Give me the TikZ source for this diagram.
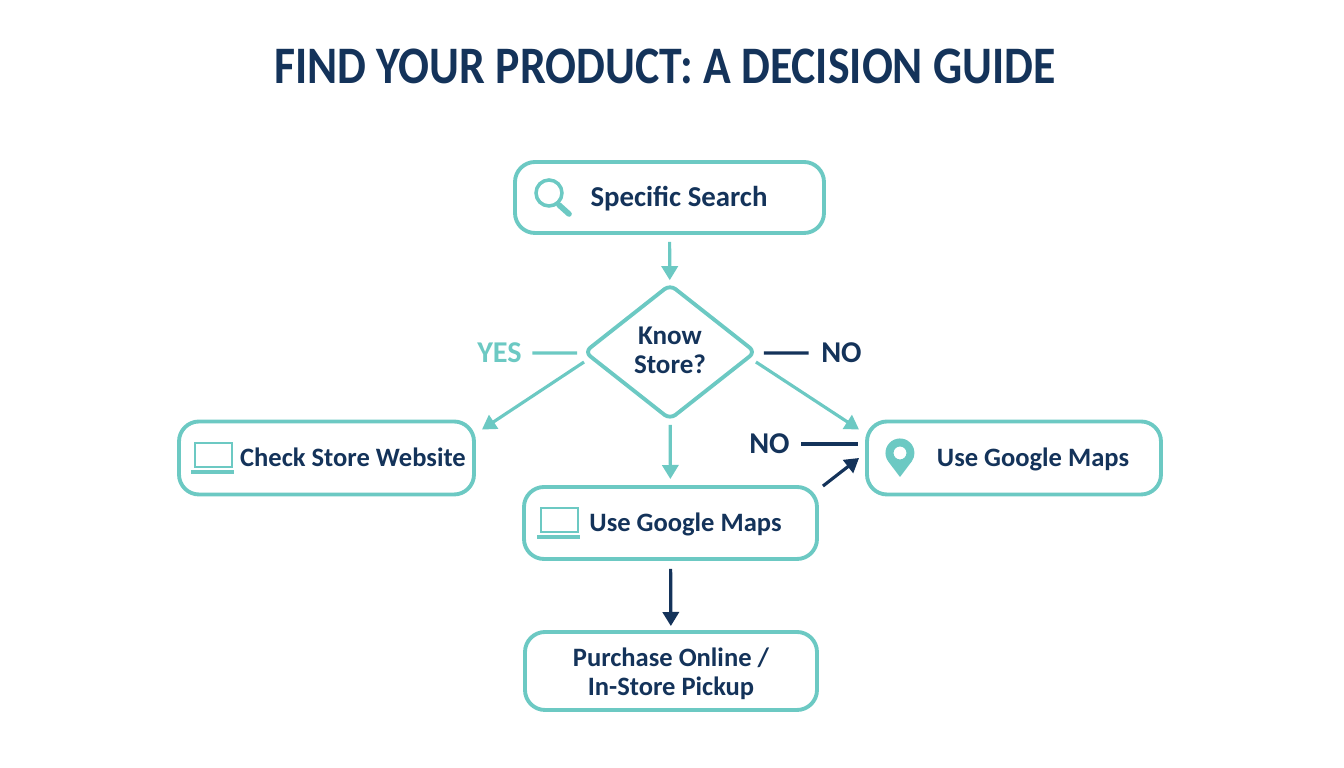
\documentclass[tikz,border=0pt]{standalone}
\usepackage{fontspec}
\setmainfont{Carlito}
\newfontfamily\titlefont[FakeStretch=.868]{Carlito}
\usetikzlibrary{arrows.meta,shapes.geometric}
\definecolor{aqua}{HTML}{6CC9C3}
\definecolor{navy}{HTML}{14335A}
\tikzset{
	flowbox/.style={draw=aqua,line width=1.1pt,rounded corners=.2cm,fill=white,text=navy,align=center,inner sep=0pt,font=\fontsize{7.55pt}{8.25pt}\selectfont\bfseries},
	oneline/.style={text height=6.6pt,text depth=1.5pt},
	flowdia/.style={draw=aqua,line width=1.1pt,rounded corners=.07cm,diamond,aspect=1.27,inner sep=0pt,text=navy,align=center,minimum width=1.72cm,minimum height=1.36cm,font=\fontsize{7.7pt}{8.2pt}\selectfont\bfseries},
	flowtag/.style={inner sep=0pt,font=\fontsize{8.6pt}{10pt}\selectfont\bfseries},
	tealarr/.style={-{Stealth[inset=0pt,length=4pt,width=4.6pt]},line width=.9pt,aqua},
	navyarr/.style={-{Stealth[inset=0pt,length=4pt,width=4.6pt]},line width=.9pt,navy},
}
\newcommand{\laptopicon}[1]{
	\begin{scope}[shift={(#1)}]
		\draw[aqua,line width=.7pt] (.04,.04) rectangle (.41,.28);
		\fill[aqua] (0,-.03) rectangle (.43,.01);
	\end{scope}
}
\begin{document}
\begin{tikzpicture}
	\useasboundingbox (0,0) rectangle (13.44,7.68);

	\node[navy,inner sep=0pt,font=\fontsize{15pt}{18pt}\titlefont\bfseries] (title) at (6.65,7.02) {FIND YOUR PRODUCT: A DECISION GUIDE};

	\node[flowbox,oneline,minimum width=3.09cm,minimum height=.71cm,font=\fontsize{8.2pt}{9pt}\selectfont\bfseries] (srch) at (6.695,5.705) {\hspace*{.19cm}Specific Search};
	\node[flowdia] (know) at (6.70,4.16) {Know\\Store?\rule[-1.1pt]{0pt}{0pt}};
	\node[flowbox,oneline,minimum width=2.95cm,minimum height=.73cm] (chk) at (3.265,3.10) {\hspace*{.53cm}Check Store Website};
	\node[flowbox,oneline,minimum width=2.93cm,minimum height=.72cm] (goog) at (6.705,2.45) {\hspace*{.30cm}Use Google Maps};
	\node[flowbox,oneline,minimum width=2.94cm,minimum height=.73cm] (maps) at (10.14,3.10) {\hspace*{.38cm}Use Google Maps};
	\node[flowbox,minimum width=2.92cm,minimum height=.78cm] (purch) at (6.71,.97) {\rule{0pt}{7.1pt}Purchase Online /\\In-Store Pickup};

	\node[flowtag,aqua] (yes) at (4.995,4.15) {YES};
	\node[flowtag,navy] (noA) at (8.415,4.15) {NO};
	\node[flowtag,navy] (noB) at (7.695,3.24) {NO};

	\draw[tealarr,shorten <=.07cm,shorten >=.02cm] (srch) -- (know);
	\draw[tealarr,shorten <=.03cm,shorten >=.06cm] (know) -- (goog);
	\draw[navyarr,shorten <=.08cm,shorten >=.04cm] (goog) -- (purch);
	\draw[tealarr] ([xshift=.02cm,yshift=-.10cm]know.west) -- ([xshift=.06cm,yshift=-.10cm]chk.north east);
	\draw[tealarr] ([xshift=-.02cm,yshift=-.10cm]know.east) -- ([xshift=-.06cm,yshift=-.10cm]maps.north west);
	\draw[navyarr] ([xshift=.04cm,yshift=-.01cm]goog.north east) -- ([xshift=-.06cm]maps.west);
	\draw[aqua,line width=.9pt,shorten <=.10cm,shorten >=.05cm] (yes.east) -- ([yshift=-.01cm]know.west);
	\draw[navy,line width=.9pt,shorten <=.12cm,shorten >=.06cm] (noA.west) -- ([yshift=-.01cm]know.east);
	\draw[navy,line width=.9pt,shorten <=.11cm] (noB.east) -- ([xshift=-.07cm,yshift=.14cm]maps.west);

	% icons
	\draw[aqua,line width=1pt] (5.49,5.75) circle (.13);
	\draw[aqua,line width=1.6pt,line cap=round] (5.59,5.63) -- (5.69,5.54);
	\laptopicon{1.91,2.97}
	\laptopicon{5.37,2.32}
	\fill[aqua,even odd rule] (9,2.91) -- (8.881,3.067) arc[start angle=215,end angle=-35,radius=.145] -- cycle (9,3.15) circle (.065);
\end{tikzpicture}
\end{document}
